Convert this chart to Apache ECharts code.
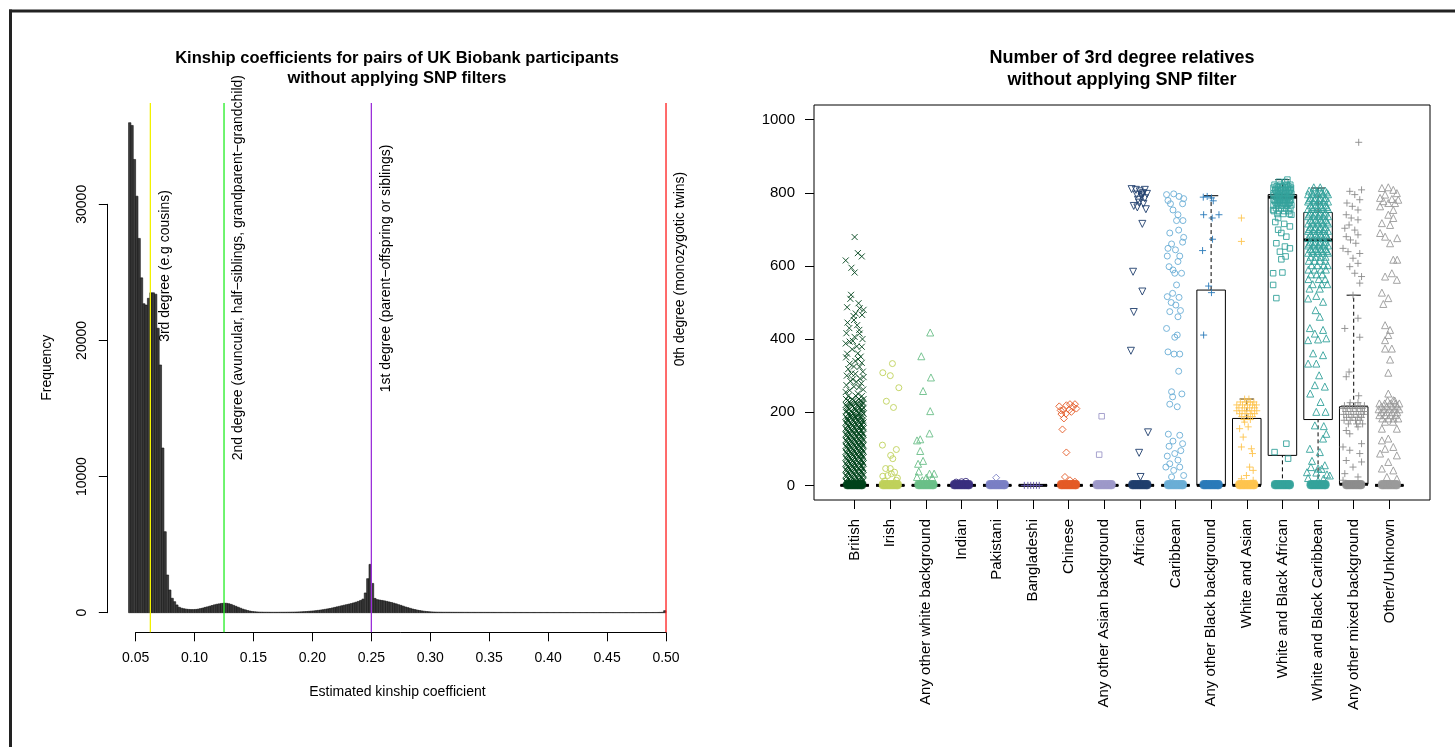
<!DOCTYPE html>
<html><head><meta charset="utf-8">
<script src="https://cdn.jsdelivr.net/npm/echarts@6/dist/echarts.min.js"></script>
<style>html,body{margin:0;padding:0;background:#fff;}#c{width:1455px;height:747px;}</style>
</head><body><div id="c"></div>
<script>
const FONT = "'Liberation Sans', Arial, Helvetica, sans-serif";

// ================= LEFT PANEL: histogram =================
const histBreakStart = 0.044;
const histBinWidth = 0.002;
const histCounts = [
 36000,35800,33300,30600,27500,24600,22700,22600,23100,23500,
 23500,23400,20900,18200,12100,5950,2770,1670,1060,810,
 570,400,330,290,260,240,230,230,240,260,
 300,340,390,430,480,530,580,620,650,680,
 700,690,660,610,540,470,400,330,260,210,
 160,120,90,70,55,45,40,35,35,32,
 30,30,30,30,32,32,34,36,38,42,
 46,52,58,66,76,88,100,115,130,150,
 170,195,220,250,280,310,350,390,430,470,
 510,550,590,630,670,720,770,830,900,1000,
 1450,2500,3550,2150,1050,960,930,900,870,830,
 790,750,700,650,590,540,480,420,370,320,
 270,230,190,160,130,105,85,70,58,48,
 42,38,35,33,32,31,31,30,29,29,
 28,28,27,27,26,26,26,25,25,24,
 24,24,23,23,23,22,22,22,21,21,
 21,20,20,20,20,19,19,19,19,18,
 18,18,18,17,17,17,17,17,16,16,
 16,16,16,16,15,15,15,15,15,15,
 14,14,14,14,14,14,14,13,13,13,
 13,13,13,13,13,12,12,12,12,12,
 12,12,12,12,12,12,12,13,13,13,
 14,14,15,16,18,22,30,150
];
const histXTicks = {min: 0.05, max: 0.5, step: 0.05};
const histYTicks = {min: 0, max: 30000, step: 10000};
const relLines = [0.0625, 0.125, 0.25, 0.5];
const relLineColors = ['#f2f200', '#22ee22', '#9b30d9', '#ff1a1a'];
const relLabels = [
 '3rd degree (e.g cousins)',
 '2nd degree (avuncular, half\u2212siblings, grandparent\u2212grandchild)',
 '1st degree (parent\u2212offspring or siblings)',
 '0th degree (monozygotic twins)'
];
const relLabelY = [19900, 11200, 16200, 18100];
const leftXRange = [0.02597, 0.51823];
const leftYRange = [-1440, 37440];

// ================= RIGHT PANEL: jittered points + boxplots =================
const categories = ['British','Irish','Any other white background','Indian','Pakistani','Bangladeshi','Chinese','Any other Asian background','African','Caribbean','Any other Black background','White and Asian','White and Black African','White and Black Caribbean','Any other mixed background','Other/Unknown'];
const rightYTicks = [0, 200, 400, 600, 800, 1000];
// [lower whisker, lower hinge, median, upper hinge, upper whisker]
const boxStats = [
 [0,0,0,0,0],[0,0,0,0,0],[0,0,0,0,0],[0,0,0,0,0],[0,0,0,0,0],[0,0,0,0,0],
 [0,0,0,0,0],[0,0,0,0,0],[0,0,0,0,0],[0,0,0,0,0],
 [0,0,0,534,792],
 [0,0,0,183,236],
 [0,82,788,795,836],
 [0,180,671,746,813],
 [0,3,3,215,520],
 [0,0,0,0,0]
];
// dense blob of points at zero (jitter offsets, values)
const zeroJitter = [-0.21,-0.17,-0.12,-0.07,-0.02,0.03,0.08,0.13,0.18,0.21];
const zeroBlobValues = [0, 4];

// points: [jitter, value]
const britishPts = [[0,679],[-0.25,615],[0.09,635],[0.2,626],[-0.09,595],[0,582],[-0.1,521],[-0.12,510],[0.11,498],[-0.21,487],[0.14,484],[0.21,466],[0.25,480],[-0.03,463],[-0.02,452],[0.07,438],[0.13,425],[-0.23,416],[0.14,415],[0,406],[-0.25,388],[-0.14,393],[0.2,379],[-0.07,372],[0.09,361],[0.17,352],[-0.21,360],[-0.14,333],[0.14,324],[-0.09,306],[0.23,311],[0.05,283],[-0.23,274],[0.19,279],[0.09,251],[-0.14,260],[0.02,340],[-0.18,318],[0.25,296],[-0.05,290],[0.12,268],[-0.2,445],[0.03,470],[-0.15,430],[0.22,400],[-0.05,395],[0.06,380],[-0.24,350],[0.1,345],[-0.02,325],[0.2,335],[-0.22,300],[0.02,305],[0.15,292],[-0.12,285],[0.24,262],[-0.02,270],[-0.25,255]];
const britishRows = [[244,[-0.18,0.04,0.2]],[236,[-0.24,-0.07,0.12,0.25]],[228,[-0.14,0.02,0.22]],[220,[-0.25,-0.09,0.08,0.2]],[212,[-0.2,0,0.15,0.25]],[204,[-0.23,-0.1,0.05,0.19]],[196,[-0.17,-0.03,0.12,0.25]],[188,[-0.25,-0.12,0.03,0.17]],[180,[-0.2,-0.05,0.09,0.23]],[172,[-0.25,-0.13,0,0.13,0.25]],[164,[-0.19,-0.06,0.07,0.2]],[156,[-0.25,-0.12,0.01,0.14,0.25]],[148,[-0.2,-0.07,0.06,0.19]],[140,[-0.25,-0.13,0,0.12,0.24]],[132,[-0.19,-0.06,0.07,0.2]],[124,[-0.25,-0.12,0,0.13,0.25]],[116,[-0.19,-0.06,0.07,0.2]],[108,[-0.25,-0.13,0,0.12,0.24]],[100,[-0.19,-0.06,0.07,0.2]],[92,[-0.25,-0.12,0,0.13,0.25]],[84,[-0.19,-0.06,0.07,0.2]],[76,[-0.25,-0.13,0,0.12,0.24]],[68,[-0.19,-0.06,0.07,0.2]],[60,[-0.25,-0.12,0,0.13,0.25]],[52,[-0.19,-0.06,0.07,0.2]],[44,[-0.25,-0.13,0,0.12,0.24]],[36,[-0.19,-0.06,0.07,0.2]],[28,[-0.25,-0.12,0,0.13,0.25]],[20,[-0.19,-0.06,0.07,0.2]],[12,[-0.25,-0.13,0,0.12,0.24]]];
const britishRows2 = [[232,[-0.2,-0.02,0.17]],[224,[-0.12,0.05,0.23]],[216,[-0.22,-0.06,0.1]],[208,[-0.15,0.02,0.21]],[200,[-0.24,-0.08,0.08,0.22]],[192,[-0.1,0.06,0.2]],[184,[-0.22,-0.09,0.04,0.19]],[176,[-0.18,-0.03,0.1,0.22]],[168,[-0.23,-0.1,0.04,0.18]],[160,[-0.16,-0.01,0.12,0.24]],[152,[-0.23,-0.09,0.04,0.18]],[144,[-0.16,-0.02,0.11,0.23]],[136,[-0.23,-0.1,0.04,0.18]],[128,[-0.16,-0.02,0.11,0.23]],[120,[-0.23,-0.09,0.04,0.18]],[112,[-0.16,-0.02,0.11,0.23]],[104,[-0.23,-0.1,0.04,0.18]],[96,[-0.16,-0.02,0.11,0.23]],[88,[-0.23,-0.09,0.04,0.18]],[80,[-0.16,-0.02,0.11,0.23]],[72,[-0.23,-0.1,0.04,0.18]],[64,[-0.16,-0.02,0.11,0.23]],[56,[-0.23,-0.09,0.04,0.18]],[48,[-0.16,-0.02,0.11,0.23]],[40,[-0.23,-0.1,0.04,0.18]],[32,[-0.16,-0.02,0.11,0.23]],[24,[-0.23,-0.09,0.04,0.18]],[16,[-0.16,-0.02,0.11,0.23]],[8,[-0.23,-0.1,0.04,0.18]]];
const irishPts = [[-0.21,308],[0,300],[0.06,333],[0.24,267],[-0.11,230],[0.09,213],[-0.22,110],[0.17,98],[0.01,82],[0.07,73],[-0.13,46],[0,46],[0.12,36],[-0.07,27],[-0.21,25],[0.03,32],[0.17,14],[-0.16,12],[0.2,20]];
const aowbPts = [[0.12,418],[-0.13,353],[0.14,295],[-0.08,258],[0.12,203],[0.1,142],[-0.25,123],[-0.16,126],[-0.16,94],[-0.08,67],[-0.22,59],[-0.2,38],[0.1,32],[0.23,32],[-0.25,23],[0.01,21],[0.18,21],[-0.1,14],[0.05,12]];
const indianPts = [[0,10],[-0.15,9],[0.12,11]];
const pakistaniPts = [[-0.03,21]];
const bangladeshiPts = [[-0.24,0],[-0.14,0],[-0.06,0],[0.02,0],[0.1,0],[0.18,0]];
const chinesePts = [[-0.26,216],[-0.15,206],[-0.06,219],[0.04,222],[0.13,215],[0.18,222],[0.02,206],[-0.07,196],[-0.2,195],[0.08,201],[-0.13,183],[-0.17,153],[-0.06,90],[-0.1,23],[0.04,14],[0.18,10],[0.22,210],[-0.22,205]];
const aoabPts = [[-0.07,189],[-0.14,84]];
const africanPts = [[-0.23,810],[-0.11,808],[0,804],[0.09,799],[0.2,797],[0.14,785],[0.05,790],[-0.05,781],[-0.17,764],[-0.07,760],[0.17,755],[0.07,715],[-0.19,584],[0.07,530],[-0.17,474],[-0.25,368],[0.23,145],[-0.02,89],[0.02,23],[0.05,795],[-0.09,795],[0.14,808],[-0.02,773],[0.1,770]];
const caribbeanPts = [[-0.25,795],[-0.05,797],[0.1,790],[0.23,784],[-0.21,779],[-0.14,770],[0.2,770],[-0.07,753],[0.07,740],[0.21,724],[0.03,724],[-0.16,690],[0.23,678],[0.09,698],[-0.11,660],[-0.21,648],[0,644],[-0.23,627],[0.12,627],[0.07,612],[-0.18,598],[-0.07,589],[0.17,580],[-0.02,580],[0.03,548],[-0.08,525],[-0.23,516],[0.1,514],[0.01,493],[-0.16,475],[0.14,478],[0.07,461],[-0.25,429],[-0.02,405],[0.05,411],[-0.21,365],[-0.04,359],[0.12,359],[0.09,312],[-0.11,256],[-0.08,242],[-0.16,222],[0.05,215],[0.12,137],[-0.07,121],[0.2,114],[-0.18,107],[-0.02,87],[-0.23,80],[0.07,69],[-0.16,59],[-0.27,50],[-0.05,41],[0.12,50],[0.23,27],[-0.11,23],[0.15,95],[-0.2,140],[0.18,250],[-0.12,500],[0.2,665]];
const aobbPts = [[-0.22,788],[-0.11,790],[0.01,786],[0.06,778],[-0.21,740],[0.03,731],[0.22,740],[0.04,673],[-0.24,642],[-0.07,545],[0.01,527],[-0.21,411],[-0.13,5]];
const waPts = [[-0.15,731],[-0.15,667],[-0.2,155],[0.04,160],[-0.1,132],[-0.15,105],[0.13,100],[0.16,87],[0.08,50],[0.18,41],[-0.01,27],[-0.15,18],[0.18,14],[-0.06,173]];
const waRows = [[236,[-0.06,0.06]],[228,[-0.18,-0.02,0.1,0.2]],[220,[-0.28,-0.12,0.02,0.16,0.27]],[212,[-0.22,-0.06,0.08,0.22]],[204,[-0.28,-0.13,0,0.14,0.28]],[196,[-0.2,-0.05,0.1,0.22]],[188,[-0.14,0.04,0.16]],[180,[-0.08,0.1]]];
const wbaPts = [[0.14,836],[-0.03,690],[0.11,680],[-0.17,662],[0.07,653],[0.21,648],[-0.07,639],[0.09,626],[-0.03,618],[-0.26,580],[0,582],[-0.26,548],[-0.17,512],[0.11,114],[-0.22,91],[0.16,73],[-0.26,753],[0.25,740],[-0.12,731],[0.21,708],[-0.12,699],[0.05,715],[-0.2,720]];
const wbaRows = [[830,[-0.1,0.08]],[822,[-0.22,-0.05,0.12,0.22]],[814,[-0.25,-0.12,0.02,0.15,0.24]],[806,[-0.19,-0.06,0.08,0.2]],[798,[-0.25,-0.12,0,0.13,0.25]],[790,[-0.19,-0.06,0.07,0.2]],[782,[-0.25,-0.13,0,0.12,0.24]],[774,[-0.19,-0.06,0.07,0.2]],[766,[-0.25,-0.12,0,0.13,0.25]],[758,[-0.18,-0.04,0.1,0.22]],[750,[-0.24,-0.1,0.05,0.17]],[742,[-0.14,0.02,0.2]],[818,[-0.16,0,0.17]],[810,[-0.2,-0.04,0.1,0.23]],[802,[-0.16,0.03,0.18]],[794,[-0.24,-0.09,0.05,0.22]],[786,[-0.15,0.02,0.16]],[778,[-0.22,-0.08,0.06,0.21]],[770,[-0.15,0.03,0.17]]];
const wbcPts = [[-0.28,511],[-0.05,518],[0.14,502],[-0.07,479],[0.05,461],[-0.23,430],[0.14,425],[-0.09,415],[0.23,402],[-0.28,397],[0,399],[-0.14,361],[0.14,356],[-0.28,333],[-0.05,333],[0.03,301],[-0.09,274],[0.19,270],[-0.22,251],[0.07,228],[-0.05,201],[0.21,201],[-0.09,164],[0.16,162],[0.23,141],[0.14,128],[-0.23,100],[0.05,91],[-0.17,67],[0.19,55],[0,46],[-0.31,36],[0.33,27],[-0.2,50],[0.1,45],[-0.05,35],[0.25,30],[-0.28,20],[0.15,18],[0,12]];
const wbcRows = [[815,[-0.12,0.06]],[806,[-0.25,-0.1,0.05,0.2]],[796,[-0.28,-0.14,0,0.14,0.28]],[786,[-0.21,-0.07,0.07,0.21]],[776,[-0.28,-0.14,0,0.14,0.28]],[766,[-0.21,-0.07,0.07,0.21]],[756,[-0.28,-0.14,0,0.14,0.28]],[746,[-0.21,-0.07,0.07,0.21]],[736,[-0.28,-0.14,0,0.14,0.28]],[726,[-0.21,-0.07,0.07,0.21]],[716,[-0.28,-0.14,0,0.14,0.28]],[706,[-0.21,-0.07,0.07,0.21]],[696,[-0.28,-0.14,0,0.14,0.28]],[686,[-0.21,-0.07,0.07,0.21]],[676,[-0.28,-0.14,0,0.14,0.28]],[666,[-0.21,-0.07,0.07,0.21]],[656,[-0.28,-0.14,0,0.14,0.28]],[646,[-0.21,-0.07,0.07,0.21]],[636,[-0.28,-0.14,0,0.14,0.28]],[625,[-0.21,-0.07,0.07,0.21]],[614,[-0.26,-0.1,0.05,0.2]],[602,[-0.18,-0.02,0.16,0.27]],[590,[-0.27,-0.1,0.08,0.22]],[577,[-0.2,-0.04,0.12]],[564,[-0.27,0.02,0.2]],[550,[-0.15,0.1,0.26]],[538,[-0.24,0.05]],[801,[-0.18,-0.03,0.1,0.24]],[781,[-0.25,-0.1,0.04,0.18]],[761,[-0.17,-0.02,0.11,0.25]],[741,[-0.25,-0.1,0.04,0.18]],[721,[-0.17,-0.02,0.11,0.25]],[701,[-0.25,-0.1,0.04,0.18]],[681,[-0.17,-0.02,0.11,0.25]],[661,[-0.25,-0.1,0.04,0.18]],[641,[-0.17,-0.02,0.11,0.25]]];
const aombPts = [[0.14,938],[-0.11,804],[0.22,808],[0.03,795],[0.17,781],[-0.19,772],[-0.04,763],[0.12,753],[-0.21,740],[-0.07,731],[0.12,726],[-0.13,712],[-0.25,703],[0.03,698],[-0.21,680],[0.12,685],[-0.09,671],[0.06,662],[-0.3,648],[-0.16,639],[0.17,634],[-0.02,621],[0.12,607],[-0.11,598],[0.03,580],[0.22,571],[0.17,553],[-0.02,520],[0.12,457],[-0.25,429],[0.17,405],[-0.21,297],[-0.13,310],[0.14,245],[-0.3,105],[-0.11,96],[0.17,87],[-0.21,68],[0.22,64],[-0.02,50],[-0.25,32],[0.12,23],[-0.11,141],[0.12,160],[-0.21,150],[0.22,114],[-0.3,14]];
const aombRows = [[226,[-0.1,0.12]],[218,[-0.26,-0.12,0.04,0.18,0.3]],[210,[-0.3,-0.18,-0.03,0.1,0.24]],[202,[-0.22,-0.08,0.07,0.2,0.3]],[194,[-0.28,-0.14,0,0.14,0.27]],[186,[-0.2,-0.05,0.1,0.22]],[178,[-0.27,-0.1,0.05,0.18]],[168,[-0.15,0.08,0.25]]];
const otherPts = [[-0.21,813],[-0.03,815],[0.11,808],[0.21,799],[-0.12,795],[-0.26,786],[0.07,783],[0.25,781],[-0.17,777],[-0.03,772],[0.16,772],[-0.26,763],[0.11,753],[-0.03,740],[0.11,731],[-0.21,717],[0.02,712],[-0.26,690],[-0.12,680],[0.22,676],[0.02,662],[0.11,617],[0.22,617],[-0.12,571],[0.07,580],[0.21,562],[-0.21,527],[-0.03,512],[-0.17,496],[-0.12,438],[0.02,425],[-0.03,411],[-0.12,397],[0.07,374],[-0.12,374],[0.02,344],[-0.03,308],[-0.03,251],[0.11,233],[-0.21,155],[0.21,155],[-0.03,128],[-0.21,123],[0.11,105],[-0.12,100],[-0.26,87],[0.21,82],[-0.03,64],[-0.21,46],[0.11,41],[-0.07,23],[0.21,18]];
const otherRows = [[232,[-0.05,0.15]],[224,[-0.28,-0.13,0.02,0.17,0.28]],[216,[-0.22,-0.07,0.08,0.22]],[208,[-0.3,-0.15,0,0.15,0.28]],[200,[-0.22,-0.07,0.08,0.22]],[192,[-0.28,-0.12,0.03,0.18]],[183,[-0.2,-0.03,0.12,0.25]],[174,[-0.12,0.1]]];

const SYM = {
  x: 'path://M0,0L10,10M10,0L0,10',
  plus: 'path://M5,0L5,10M0,5L10,5',
  circle: 'circle', tri: 'triangle', rect: 'rect', diamond: 'diamond',
  invtri: 'path://M0,0L10,0L5,8.66Z'
};
const catColors = ['#00441b','#bfd15a','#6abf88','#3a2e7e','#7b80c4','#5e52a6','#e35a26','#9d99c9','#1f3e6d','#6aaed6','#2a7ab9','#fec44f','#34a29b','#34a29b','#8c8c8c','#9a9a9a'];
const catSymbols = ['x','circle','tri','circle','diamond','plus','diamond','rect','invtri','circle','plus','plus','rect','tri','plus','tri'];
const catSizes = {x:6, circle:6, tri:7, rect:5.5, diamond:7, plus:7, invtri:7};
const catHasBlob = [1,1,1,1,1,0,1,1,1,1,1,1,1,1,1,1];

function expandRows(rows){ const out=[]; rows.forEach(r=>r[1].forEach(j=>out.push([j,r[0]]))); return out; }

const catPoints = [
  britishPts.concat(expandRows(britishRows), expandRows(britishRows2)),
  irishPts, aowbPts, indianPts, pakistaniPts, bangladeshiPts, chinesePts, aoabPts,
  africanPts, caribbeanPts, aobbPts,
  waPts.concat(expandRows(waRows)),
  wbaPts.concat(expandRows(wbaRows)),
  wbcPts.concat(expandRows(wbcRows)),
  aombPts.concat(expandRows(aombRows)),
  otherPts.concat(expandRows(otherRows))
];

// ================= build =================
const chart = echarts.init(document.getElementById('c'), null, {renderer:'canvas'});

const histData = histCounts.map((c,i)=>[histBreakStart+i*histBinWidth, histBreakStart+(i+1)*histBinWidth, c]);
const relData = relLines.map((x,i)=>[x, relLabelY[i]]);
const boxData = boxStats.map((s,i)=>[i].concat(s));
const catIdx = categories.map((_,i)=>i);

const blobData = [];
categories.forEach((name,i)=>{
  if (!catHasBlob[i]) return;
  zeroBlobValues.forEach(v=>zeroJitter.forEach(j=>blobData.push({value:[i+j, v], itemStyle:{color:catColors[i]}})));
});

function renderHist(params, api){
  const p0 = api.coord([api.value(0), api.value(2)]);
  const p1 = api.coord([api.value(1), 0]);
  return {type:'rect', shape:{x:p0[0], y:p0[1], width:p1[0]-p0[0], height:p1[1]-p0[1]},
    style:{fill:'#3d3d3d', stroke:'#111', lineWidth:0.6}};
}
function renderRel(params, api){
  const i = params.dataIndex;
  const x = api.value(0);
  const top = api.coord([x, leftYRange[1]]);
  const bot = api.coord([x, leftYRange[0]]);
  const tp = api.coord([x, api.value(1)]);
  return {type:'group', children:[
    {type:'line', shape:{x1:top[0], y1:top[1], x2:bot[0], y2:bot[1]}, style:{stroke:relLineColors[i], lineWidth:1.3}},
    {type:'text', x: tp[0]+14.5, y: tp[1], rotation: Math.PI/2,
      style:{text: relLabels[i], fill:'#000', font:'14px ' + FONT, align:'left', verticalAlign:'middle'}}
  ]};
}
function renderBox(params, api){
  const i = api.value(0);
  const lw = api.value(1), lh = api.value(2), md = api.value(3), uh = api.value(4), uw = api.value(5);
  const hw = api.size([0.4, 0])[0];
  const sw = api.size([0.2, 0])[0];
  const c = api.coord([i, 0])[0];
  const Y = v => api.coord([i, v])[1];
  const st = {stroke:'#000', lineWidth:1};
  const ch = [];
  if (uw > uh) ch.push({type:'line', shape:{x1:c, y1:Y(uh), x2:c, y2:Y(uw)}, style:{stroke:'#000', lineWidth:1, lineDash:[4,3]}});
  if (lh > lw) ch.push({type:'line', shape:{x1:c, y1:Y(lw), x2:c, y2:Y(lh)}, style:{stroke:'#000', lineWidth:1, lineDash:[4,3]}});
  ch.push({type:'line', shape:{x1:c-sw, y1:Y(uw), x2:c+sw, y2:Y(uw)}, style:st});
  ch.push({type:'line', shape:{x1:c-sw, y1:Y(lw), x2:c+sw, y2:Y(lw)}, style:st});
  ch.push({type:'rect', shape:{x:c-hw, y:Y(uh), width:2*hw, height:Y(lh)-Y(uh)}, style:{fill:'none', stroke:'#000', lineWidth:1}});
  ch.push({type:'line', shape:{x1:c-hw, y1:Y(md), x2:c+hw, y2:Y(md)}, style:{stroke:'#000', lineWidth:3, lineCap:'butt'}});
  return {type:'group', children:ch};
}

const series = [
  {type:'custom', xAxisIndex:0, yAxisIndex:0, renderItem:renderHist, data:histData, encode:{x:[0,1], y:2}, z:2, silent:true, clip:false},
  {type:'custom', xAxisIndex:0, yAxisIndex:0, renderItem:renderRel, data:relData, encode:{x:0, y:1}, z:3, silent:true, clip:false},
  {type:'custom', xAxisIndex:3, yAxisIndex:3, renderItem:renderBox, data:boxData, encode:{x:0, y:[1,5]}, z:2, silent:true},
  {type:'scatter', name:'zero', xAxisIndex:3, yAxisIndex:3, silent:true, z:4, symbol:'circle', symbolSize:8, data:blobData}
];
categories.forEach((name,i)=>{
  const sym = catSymbols[i];
  series.push({
    type:'scatter', name, xAxisIndex:3, yAxisIndex:3, silent:true, z:3,
    symbol: SYM[sym], symbolSize: catSizes[sym],
    data: catPoints[i].map(p=>[i + p[0], p[1]]),
    itemStyle:{color:'rgba(0,0,0,0)', borderColor:catColors[i], borderWidth:1, opacity:0.9}
  });
});

const hidden = {axisLine:{show:false, onZero:false}, axisTick:{show:false}, axisLabel:{show:false}, splitLine:{show:false}};

const option = {
  animation:false,
  backgroundColor:'#fff',
  textStyle:{fontFamily:FONT, color:'#000'},
  title:[
    {text:'Kinship coefficients for pairs of UK Biobank participants\nwithout applying SNP filters', left:397, top:48, padding:0, textAlign:'center',
     textStyle:{fontSize:16.5, fontWeight:'bold', lineHeight:20, fontFamily:FONT, color:'#000'}},
    {text:'Number of 3rd degree relatives\nwithout applying SNP filter', left:1122, top:47, padding:0, textAlign:'center',
     textStyle:{fontSize:18, fontWeight:'bold', lineHeight:22, fontFamily:FONT, color:'#000'}}
  ],
  grid:[
    {left:107.3, top:103.1, width:580.2, height:529.2, show:false},
    {left:107.3, top:204.3, width:580.2, height:408.4, show:false},
    {left:135.6, top:500, width:530.4, height:132.3, show:false},
    {left:814, top:105, width:616, height:395, show:true, borderColor:'#000', borderWidth:1, backgroundColor:'rgba(0,0,0,0)'}
  ],
  xAxis:[
    Object.assign({gridIndex:0, type:'value', min:leftXRange[0], max:leftXRange[1],
      name:'Estimated kinship coefficient', nameLocation:'middle', nameGap:53,
      nameTextStyle:{fontSize:14, color:'#000', fontFamily:FONT}}, hidden),
    {gridIndex:1, type:'value', min:0, max:1, show:false},
    {gridIndex:2, type:'value', min:histXTicks.min, max:histXTicks.max, interval:histXTicks.step, position:'bottom',
      axisLine:{show:true, onZero:false, lineStyle:{color:'#000', width:1}},
      axisTick:{show:true, length:9, lineStyle:{color:'#000', width:1}},
      axisLabel:{show:true, margin:19, fontSize:14, color:'#000', fontFamily:FONT, formatter:v=>v.toFixed(2)},
      splitLine:{show:false}},
    {gridIndex:3, type:'value', min:-1.14, max:16.14, position:'bottom',
      axisLine:{show:false, onZero:false},
      axisTick:{show:true, customValues:catIdx, length:9, lineStyle:{color:'#000', width:1}},
      axisLabel:{show:true, customValues:catIdx, rotate:90, margin:19, fontSize:15, color:'#000', fontFamily:FONT,
        formatter:v=>categories[Math.round(v)]},
      splitLine:{show:false}}
  ],
  yAxis:[
    Object.assign({gridIndex:0, type:'value', min:leftYRange[0], max:leftYRange[1],
      name:'Frequency', nameLocation:'middle', nameGap:53, nameRotate:90,
      nameTextStyle:{fontSize:14, color:'#000', fontFamily:FONT}}, hidden),
    {gridIndex:1, type:'value', min:histYTicks.min, max:histYTicks.max, interval:histYTicks.step,
      axisLine:{show:true, onZero:false, lineStyle:{color:'#000', width:1}},
      axisTick:{show:true, length:8.5, lineStyle:{color:'#000', width:1}},
      axisLabel:{show:true, rotate:90, margin:18, fontSize:14, color:'#000', fontFamily:FONT, formatter:v=>String(v)},
      splitLine:{show:false}},
    {gridIndex:2, type:'value', min:0, max:1, show:false},
    {gridIndex:3, type:'value', min:-40, max:1040, position:'left',
      axisLine:{show:false, onZero:false},
      axisTick:{show:true, customValues:rightYTicks, length:9, lineStyle:{color:'#000', width:1}},
      axisLabel:{show:true, customValues:rightYTicks, margin:19, fontSize:15, color:'#000', fontFamily:FONT, formatter:v=>String(v)},
      splitLine:{show:false}}
  ],
  graphic:[
    {type:'line', shape:{x1:9, y1:11, x2:1455, y2:11}, style:{stroke:'#222', lineWidth:3}, silent:true},
    {type:'line', shape:{x1:10.5, y1:9.5, x2:10.5, y2:747}, style:{stroke:'#222', lineWidth:3}, silent:true}
  ],
  series
};
chart.setOption(option);
</script>
</body></html>
